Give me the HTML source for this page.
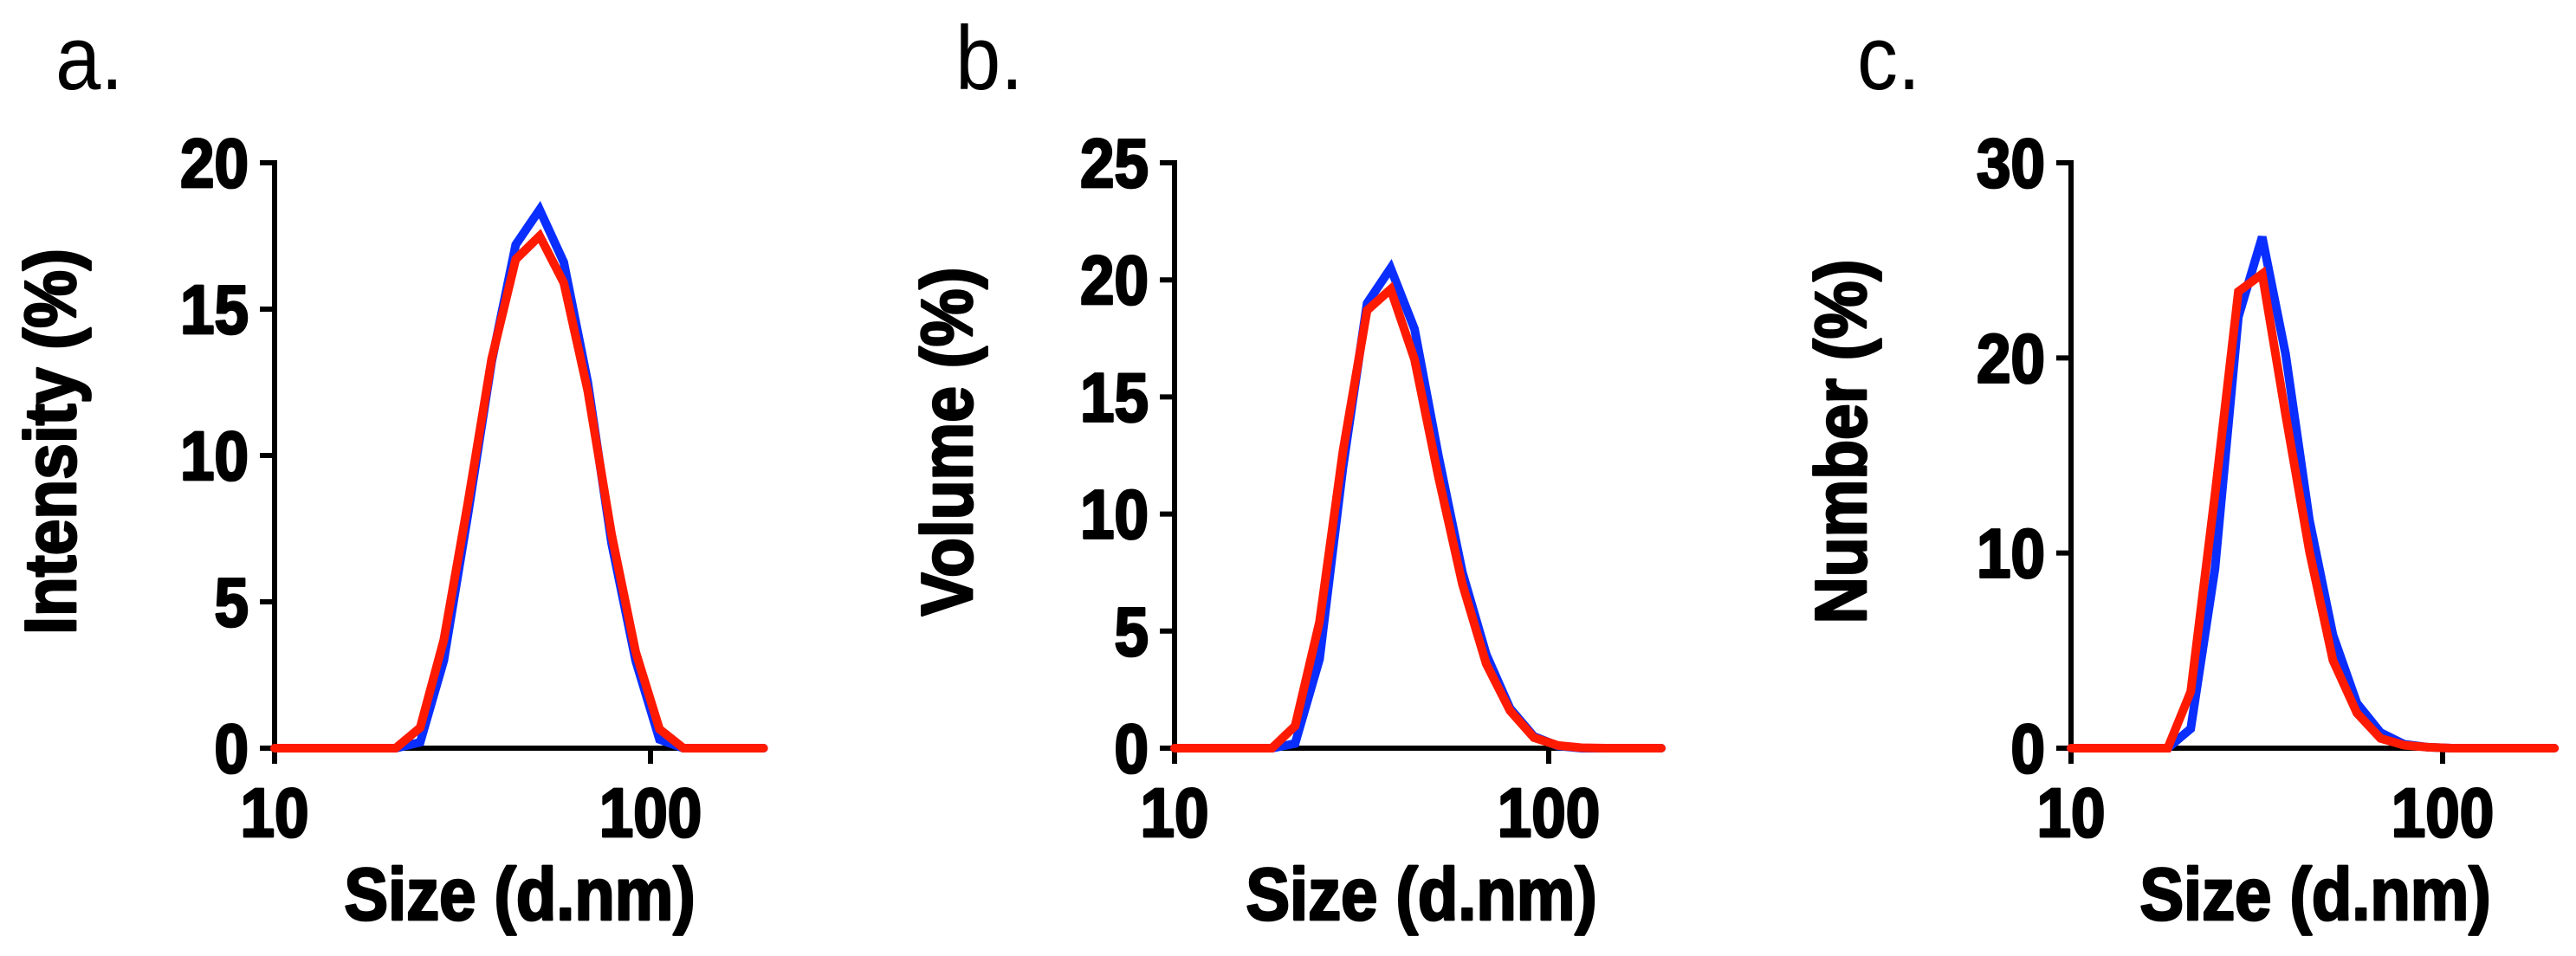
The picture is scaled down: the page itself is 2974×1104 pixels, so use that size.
<!DOCTYPE html>
<html><head><meta charset="utf-8"><style>
html,body{margin:0;padding:0;background:#fff;}
svg{display:block;font-family:"Liberation Sans",Arial,sans-serif;}
</style></head><body>
<svg id="fig" width="2974" height="1104" viewBox="0 0 2974 1104" xmlns="http://www.w3.org/2000/svg"></svg>
<script>
const sizes = [10, 11.7, 13.5, 15.7, 18.2, 21.0, 24.4, 28.2, 32.7, 37.8, 43.8, 50.7, 58.8, 68.1, 78.8, 91.3, 105.7, 122.4, 141.8, 164.2, 200];
const intensityBlue = [0,0,0,0,0,0,0.2,3.0,8.0,13.2,17.2,18.4,16.6,12.5,7.0,3.0,0.3,0,0,0,0];
const intensityRed  = [0,0,0,0,0,0,0.7,3.7,8.4,13.3,16.7,17.5,15.9,12.2,7.3,3.3,0.65,0,0,0,0];
const volumeBlue = [0,0,0,0,0,0.2,3.8,12.0,19.0,20.5,17.9,12.5,7.5,4.0,1.7,0.5,0.1,0,0,0,0];
const volumeRed  = [0,0,0,0,0,0.95,5.4,12.7,18.7,19.6,16.6,11.6,7.0,3.6,1.6,0.45,0.12,0.02,0,0,0];
const numberBlue = [0,0,0,0,0,1.0,9.2,22.1,26.2,20.2,11.7,5.8,2.3,0.8,0.2,0.05,0,0,0,0,0];
const numberRed  = [0,0,0,0,0,2.9,13.0,23.4,24.3,17.1,10.1,4.5,1.8,0.5,0.15,0.05,0,0,0,0,0];
const yTicksA = [0,5,10,15,20];
const yTicksB = [0,5,10,15,20,25];
const yTicksC = [0,10,20,30];
const xTicks = [10,100];

const NS = "http://www.w3.org/2000/svg";
const svg = document.getElementById('fig');
function mk(tag, attrs, parent, text){
  const e = document.createElementNS(NS, tag);
  for (const k in attrs) e.setAttribute(k, attrs[k]);
  if (text !== undefined) e.textContent = text;
  (parent||svg).appendChild(e);
  return e;
}
const panels = [
  {key:'a', label:'a.', lx:64, ax:317, decade:434, ymax:20, yt:yTicksA, title:'Intensity (%)', tx:87, xt:600, blue:intensityBlue, red:intensityRed},
  {key:'b', label:'b.', lx:1103, ax:1356, decade:432, ymax:25, yt:yTicksB, title:'Volume (%)', tx:1122, xt:1641, blue:volumeBlue, red:volumeRed},
  {key:'c', label:'c.', lx:2144, ax:2391, decade:429, ymax:30, yt:yTicksC, title:'Number (%)', tx:2154, xt:2673, blue:numberBlue, red:numberRed}
];
const y0 = 864, yTop = 188, SY = 1.12;
const heavy = {'font-weight':'bold', stroke:'#000', 'stroke-width':2.5, 'stroke-linejoin':'round'};
panels.forEach(p => {
  const g = mk('g', {});
  
  
  const xs = v => p.ax + (Math.log10(v) - 1) * p.decade;
  const ys = v => y0 - v / p.ymax * (y0 - yTop);
  const lab = mk('text', {x:0, y:0, 'font-size':94, fill:'#000', transform:`translate(${p.lx},103) scale(1,${SY})`}, g, p.label);
  
  
  const ya = mk('line', {x1:p.ax, y1:yTop-3, x2:p.ax, y2:y0+18, stroke:'#000', 'stroke-width':6}, g);
  
  
  p.yt.forEach(t => {
    const y = ys(t);
    mk('line', {x1:p.ax-17, y1:y, x2:p.ax, y2:y, stroke:'#000', 'stroke-width':6}, g);
    const tl = mk('text', Object.assign({x:0, y:0, 'font-size':71, 'text-anchor':'end', transform:`translate(${p.ax-30},${y+28}) scale(1,${SY})`}, heavy), g, String(t));
    
    
  });
  const xa = mk('line', {x1:p.ax, y1:y0, x2:xs(200), y2:y0, stroke:'#000', 'stroke-width':6}, g);
  
  
  xTicks.forEach(t => {
    const x = xs(t);
    mk('line', {x1:x, y1:y0, x2:x, y2:y0+18, stroke:'#000', 'stroke-width':6}, g);
    const tl = mk('text', Object.assign({x:0, y:0, 'font-size':71, 'text-anchor':'middle', transform:`translate(${x},966) scale(1,${SY})`}, heavy), g, String(t));
    
    
  });
  const yt = mk('text', Object.assign({x:0, y:0, 'font-size':75, 'text-anchor':'middle', transform:`translate(${p.tx},510) rotate(-90) scale(1,${SY})`}, heavy), g, p.title);
  
  
  const xt = mk('text', Object.assign({x:0, y:0, 'font-size':76, 'text-anchor':'middle', transform:`translate(${p.xt},1062) scale(1,${SY})`}, heavy), g, 'Size (d.nm)');
  
  
  [['blue', p.blue, '#0a2eff'], ['red', p.red, '#ff1a00']].forEach(([nm, arr, col]) => {
    const pts = sizes.map((s,i) => xs(s).toFixed(1) + ',' + ys(arr[i]).toFixed(1)).join(' ');
    const pl = mk('polyline', {points:pts, fill:'none', stroke:col, 'stroke-width':10, 'stroke-linejoin':'miter', 'stroke-linecap':'round'}, g);
    
    
  });
});
</script>
</body></html>
